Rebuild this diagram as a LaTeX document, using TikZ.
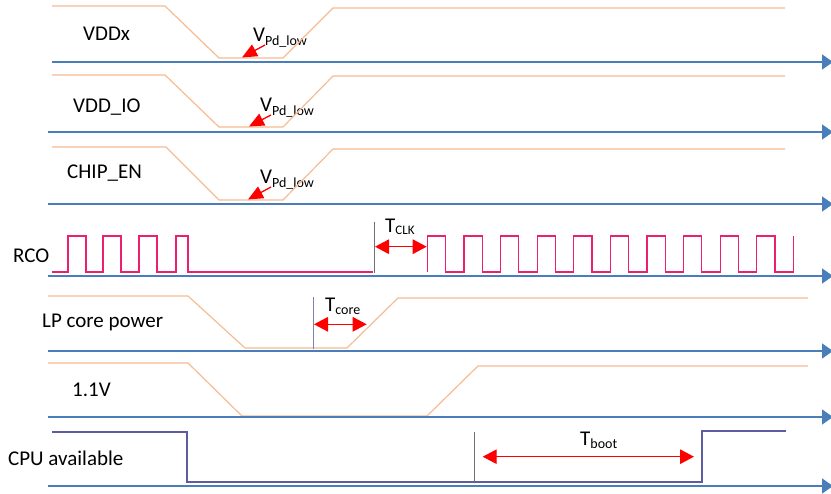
\documentclass[tikz,border=0pt]{standalone}
\usepackage{fontspec}
\setmainfont{Carlito}
\usetikzlibrary{arrows.meta}
\definecolor{axisblue}{RGB}{74,126,187}
\definecolor{pwrorange}{RGB}{246,188,148}
\definecolor{clkpink}{RGB}{236,32,112}
\definecolor{cpupurple}{RGB}{92,92,160}
\definecolor{vgray}{RGB}{112,112,112}
\definecolor{vlilac}{RGB}{128,128,178}
\newcommand\lowsub[2]{\raisebox{-#1pt}{\fontsize{14}{15}\selectfont #2}}
\begin{document}
\begin{tikzpicture}[x=1pt,y=-1pt,
	lbl/.style={anchor=base west,inner sep=0pt,font=\fontsize{21}{24}\selectfont},
	timeaxis/.style={draw=axisblue,line width=1.6pt,-{Triangle[length=11pt,width=15pt]}},
	pwr/.style={draw=pwrorange,line width=1.2pt},
	clk/.style={draw=clkpink,line width=1.2pt},
	cpu/.style={draw=cpupurple,line width=1.1pt},
	vbar/.style={draw=vgray,line width=1.1pt},
	span/.style={draw=red,line width=1.3pt,{Triangle[length=14pt,width=14.5pt]}-{Triangle[length=14pt,width=14.5pt]}},
	pd/.style={draw=red,line width=1.3pt,-{Triangle[length=15pt,width=13pt]}}]
	\useasboundingbox(0,0)rectangle(831,494);
	\node(vddx)[lbl]at(83,41){VDDx};
	\node(vddio)[lbl]at(73,113){VDD\_IO};
	\node(chipen)[lbl]at(67,179){CHIP\_EN};
	\node(rco)[lbl]at(13,263){RCO};
	\node(lpcore)[lbl]at(42,328){LP core power};
	\node(v11)[lbl]at(72,397){1.1V};
	\node(cpuav)[lbl]at(8,466){CPU available};
	\node(vpdA)[lbl]at(253,42){V\lowsub{3.5}{Pd\_low}};
	\node(vpdB)[lbl]at(260,112){V\lowsub{3.5}{Pd\_low}};
	\node(vpdC)[lbl]at(260,184){V\lowsub{3.5}{Pd\_low}};
	\node(tclk)[lbl]at(385,233){T\lowsub{1.5}{\fontsize{13}{14}\selectfont CLK}};
	\node(tcore)[lbl]at(325,311.5){T\lowsub{3}{core}};
	\node(tboot)[lbl]at(580,446){T\lowsub{2.5}{boot}};
	\draw[pwr](52,6)--(165,6)--(219,58)--(283,58)--(333,8)--(785,8);
	\draw[pwr](52,75)--(165,75)--(219,127)--(283,127)--(333,76)--(785,76);
	\draw[pwr](52,147)--(166,147)--(219,200)--(283,200)--(333,149)--(785,149);
	\draw[clk](52,272)--(68,272)--(68,236)--(86,236)--(86,272)--(103,272)--(103,236)--(121,236)--(121,272)
		--(139,272)--(139,236)--(157,236)--(157,272)--(176,272)--(176,236)--(188,236)--(188,272)--(373,272);
	\draw[clk](427.3,272)--(427.3,236)--(445.6,236)--(445.6,272)--(463.9,272)--(463.9,236)--(482.2,236)--(482.2,272)
		--(500.5,272)--(500.5,236)--(518.8,236)--(518.8,272)--(537.1,272)--(537.1,236)--(555.4,236)--(555.4,272)
		--(573.7,272)--(573.7,236)--(592,236)--(592,272)--(610.3,272)--(610.3,236)--(628.6,236)--(628.6,272)
		--(646.9,272)--(646.9,236)--(665.2,236)--(665.2,272)--(683.5,272)--(683.5,236)--(701.8,236)--(701.8,272)
		--(720.1,272)--(720.1,236)--(738.4,236)--(738.4,272)--(756.7,272)--(756.7,236)--(775,236)--(775,272)
		--(793.3,272)--(793.3,236);
	\draw[pwr](48,296)--(188,296)--(245,348)--(347,348)--(398,298)--(808,298);
	\draw[pwr](48,363)--(188,363)--(242,416)--(427,416)--(478,366)--(808,366);
	\draw[cpu](52,432)--(187,432)--(187,482)--(702,482)--(702,431)--(786,431);
	\draw[timeaxis](52,62)--(833,62);
	\draw[timeaxis](48,132)--(833,132);
	\draw[timeaxis](48,204)--(833,204);
	\draw[timeaxis](48,276)--(833,276);
	\draw[timeaxis](48,351)--(833,351);
	\draw[timeaxis](48,417)--(833,417);
	\draw[timeaxis](48,486)--(833,486);
	\coordinate(clkbar)at(374.3,222);
	\coordinate(corebar)at(313.3,297);
	\coordinate(bootbar)at(474.7,432);
	\draw[vbar](clkbar)--++(0,51);
	\draw[vbar,draw=vlilac](corebar)--++(0,52);
	\draw[vbar](bootbar)--++(0,50);
	\coordinate(clkA)at(375,246.7);
	\coordinate(clkB)at(426.7,246.7);
	\coordinate(coreA)at(314,324.3);
	\coordinate(coreB)at(366.7,324.3);
	\coordinate(bootA)at(482.7,456.7);
	\coordinate(bootB)at(694,456.7);
	\draw[span](clkA)--(clkB);
	\draw[span](coreA)--(coreB);
	\draw[span](bootA)--(bootB);
	\coordinate(pdA)at(242,57.5);
	\coordinate(pdB)at(249,126.5);
	\coordinate(pdC)at(248,199.5);
	\draw[pd](265,45)--(pdA);
	\draw[pd](271,115)--(pdB);
	\draw[pd](271,187)--(pdC);
\end{tikzpicture}
\end{document}
